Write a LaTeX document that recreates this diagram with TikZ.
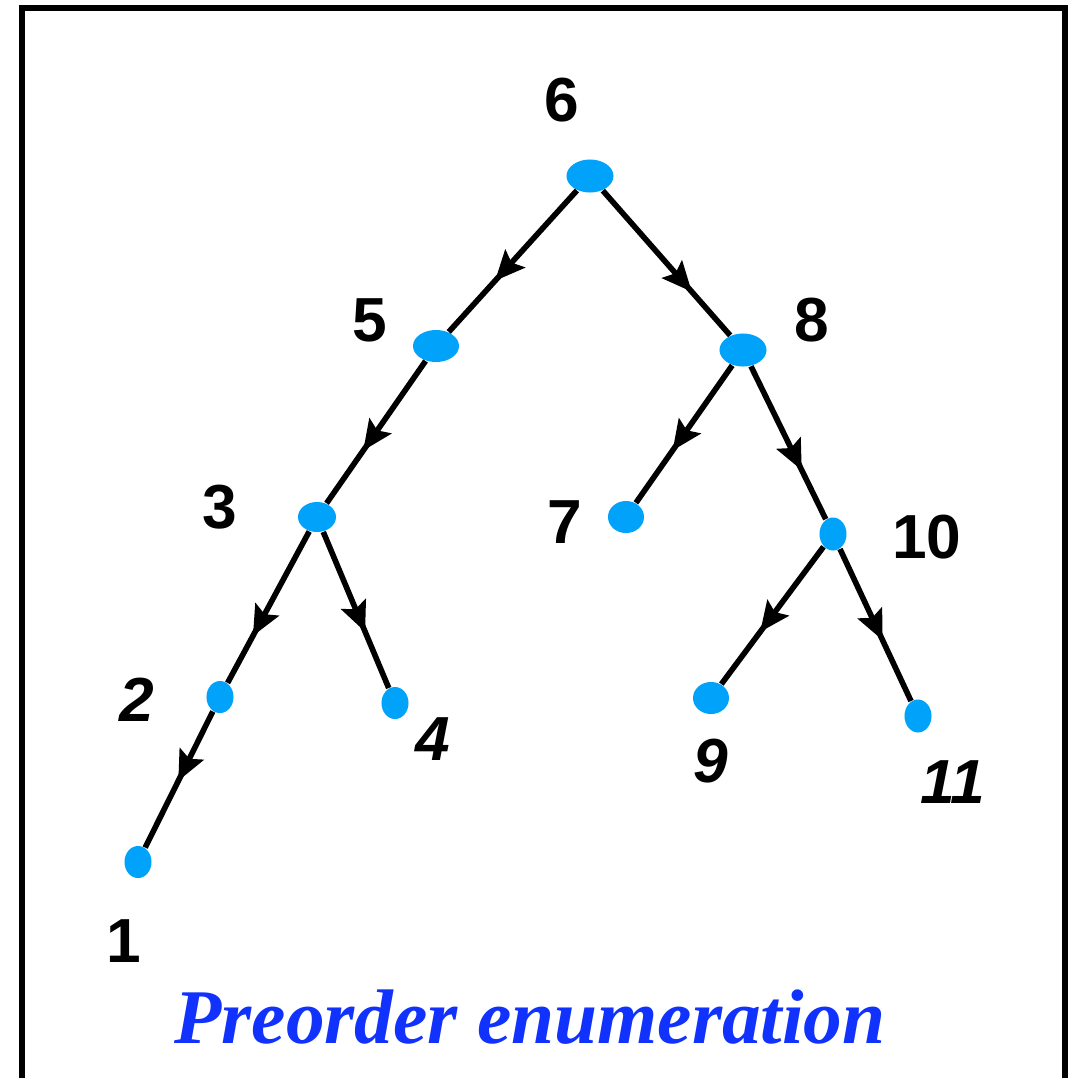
\documentclass[tikz,border=0pt]{standalone}
\usepackage{fontspec}
\setmainfont{Liberation Serif}
\newfontfamily\numfont{Liberation Sans}
\usepackage{tikz}
\definecolor{vtxblue}{RGB}{0,162,250}
\definecolor{titleblue}{RGB}{16,50,252}
\usetikzlibrary{
  arrows.meta,
  positioning,
  shapes.geometric,
  decorations.markings
}

\begin{document}
\begin{tikzpicture}[
    x=0.01cm, y=-0.01cm,
    vtx/.style 2 args={
      ellipse, fill=vtxblue, inner sep=0pt,
      minimum width=#1, minimum height=#2
    },
    num/.style={font=\numfont\fontsize{17.7}{20}\selectfont\bfseries, inner sep=0pt},
    inum/.style={num, font=\numfont\fontsize{17.7}{20}\selectfont\bfseries\itshape},
    edge/.style={line width=1.6pt, black},
    midarr/.style={postaction={decorate}, decoration={markings,
      mark=at position #1 with {\arrow{Stealth[length=8.5pt,width=7.5pt,inset=1.5pt]}}}},
    midarr/.default=0.64,
  ]
  \useasboundingbox (0,0) rectangle (1069,1078);
  \draw[line width=1.6pt] (22,1090) -- (22,8) -- (1065,8) -- (1065,1090);

  %% --- Vertices ---
  \node[vtx={4.7mm}{3.3mm}] (n6)  at (590,176) {};
  \node[vtx={4.6mm}{3.2mm}] (n5)  at (436,346) {};
  \node[vtx={4.7mm}{3.3mm}] (n8)  at (743,350) {};
  \node[vtx={3.8mm}{3.0mm}] (n3)  at (317,517) {};
  \node[vtx={3.6mm}{3.2mm}] (n7)  at (626,517) {};
  \node[vtx={2.7mm}{3.3mm}] (n10) at (833,534) {};
  \node[vtx={2.7mm}{3.2mm}] (n2)  at (220,697) {};
  \node[vtx={2.7mm}{3.2mm}] (n4)  at (395,703) {};
  \node[vtx={3.6mm}{3.2mm}] (n9)  at (711,698) {};
  \node[vtx={2.7mm}{3.3mm}] (n11) at (918,716) {};
  \node[vtx={2.7mm}{3.2mm}] (n1)  at (138,862) {};

  %% --- Tree edges ---
  \draw[edge, midarr]       (n6)  -- (n5);
  \draw[edge, midarr=0.70]  (n6)  -- (n8);
  \draw[edge, midarr=0.63]  (n5)  -- (n3);
  \draw[edge, midarr=0.69]  (n3)  -- (n2);
  \draw[edge, midarr]       (n3)  -- (n4);
  \draw[edge, midarr=0.51]  (n2)  -- (n1);
  \draw[edge, midarr=0.62]  (n8)  -- (n7);
  \draw[edge, midarr=0.68]  (n8)  -- (n10);
  \draw[edge, midarr=0.62]  (n10) -- (n9);
  \draw[edge, midarr=0.60]  (n10) -- (n11);

  %% --- Enumeration labels ---
  \node[num]  (l6)  at (562,100) {6};
  \node[num]  (l5)  at (370,320) {5};
  \node[num]  (l8)  at (812,320) {8};
  \node[num]  (l3)  at (220,507) {3};
  \node[num]  (l7)  at (565,522) {7};
  \node[num]  (l10) at (927,537) {10};
  \node[inum] (l2)  at (137,700) {2};
  \node[inum] (l4)  at (433,739) {4};
  \node[inum] (l9)  at (711,761) {9};
  \node[inum] (l11) at (953,782) {11};
  \node[num]  (l1)  at (124,941) {1};

  \node[anchor=base, inner sep=0pt, text=titleblue,
        font=\fontsize{22}{26}\selectfont\bfseries\itshape] (title) at (530,1043)
    {Preorder enumeration};
\end{tikzpicture}
\end{document}
